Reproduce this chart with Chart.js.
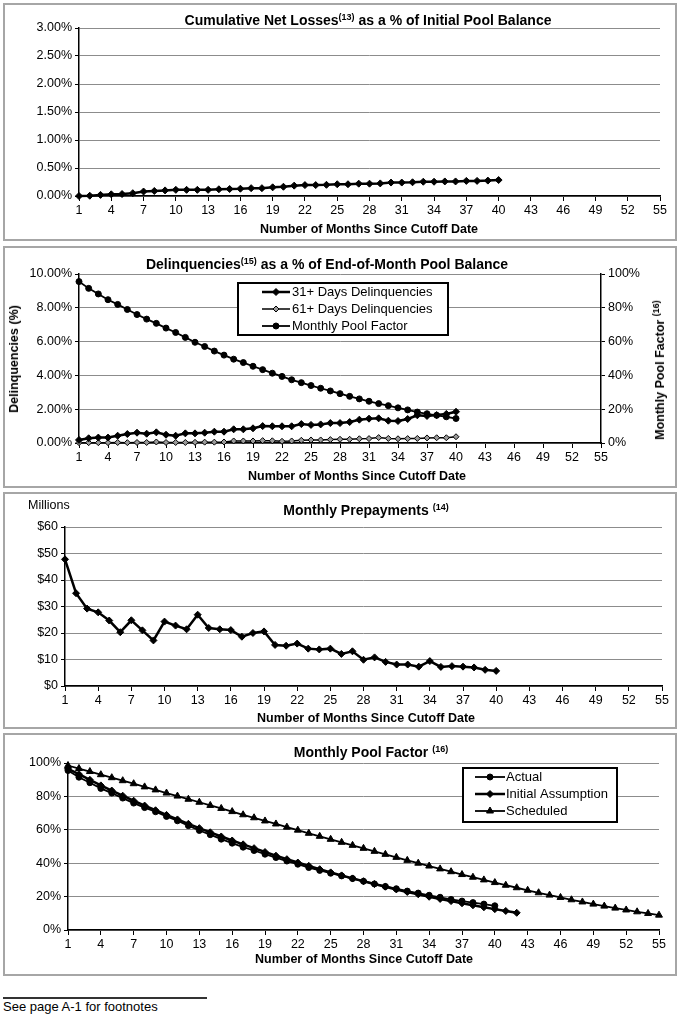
<!DOCTYPE html>
<html><head><meta charset="utf-8">
<script src="https://cdn.jsdelivr.net/npm/chart.js@4.4.1/dist/chart.umd.min.js"></script>
<style>
html,body{margin:0;padding:0;background:#fff;}
body{width:680px;height:1018px;position:relative;overflow:hidden;font-family:"Liberation Sans",Arial,sans-serif;color:#000;}
.frame{position:absolute;left:3px;width:674px;border:2px solid #a6a6a6;box-sizing:border-box;}
.cv{position:absolute;left:3px;width:674px;}
.t{position:absolute;white-space:nowrap;transform:translate(-50%,-50%);font-weight:bold;font-size:14px;line-height:16px;}
.t sup{font-size:9px;vertical-align:0;position:relative;top:-5px;line-height:0;}
.ax{font-size:12.5px;}
.rot{transform:translate(-50%,-50%) rotate(-90deg);}
.plain{position:absolute;white-space:nowrap;font-size:12.5px;line-height:14px;transform:translateY(-50%);}
.rule{position:absolute;left:3px;top:997px;width:204px;height:2px;background:#333;}
</style>
</head><body>
<div class="frame" style="top:3px;height:238px"></div>
<div class="frame" style="top:246px;height:242px"></div>
<div class="frame" style="top:492px;height:237px"></div>
<div class="frame" style="top:733px;height:243px"></div>

<div class="cv" style="top:3px;height:238px"><canvas id="c1"></canvas></div>
<div class="cv" style="top:246px;height:242px"><canvas id="c2"></canvas></div>
<div class="cv" style="top:492px;height:237px"><canvas id="c3"></canvas></div>
<div class="cv" style="top:733px;height:243px"><canvas id="c4"></canvas></div>

<div class="t" style="left:368px;top:20px">Cumulative Net Losses<sup>(13)</sup> as a % of Initial Pool Balance</div>
<div class="t ax" style="left:369px;top:229px">Number of Months Since Cutoff Date</div>

<div class="t" style="left:327px;top:264px">Delinquencies<sup>(15)</sup> as a % of End-of-Month Pool Balance</div>
<div class="t ax" style="left:357px;top:476px">Number of Months Since Cutoff Date</div>
<div class="t ax rot" style="left:14px;top:359px">Delinquencies (%)</div>
<div class="t ax rot" style="left:660px;top:370px">Monthly Pool Factor <sup>(16)</sup></div>

<div class="t" style="left:366px;top:510px">Monthly Prepayments <sup>(14)</sup></div>
<div class="plain" style="left:28px;top:505px">Millions</div>
<div class="t ax" style="left:366px;top:718px">Number of Months Since Cutoff Date</div>

<div class="t" style="left:371px;top:752px">Monthly Pool Factor <sup>(16)</sup></div>
<div class="t ax" style="left:364px;top:959px">Number of Months Since Cutoff Date</div>

<div class="rule"></div>
<div class="plain" style="left:3px;top:1007px;font-size:13px">See page A-1 for footnotes</div>

<script>
// ---------- DATA ----------
const months = [1,2,3,4,5,6,7,8,9,10,11,12,13,14,15,16,17,18,19,20,21,22,23,24,25,26,27,28,29,30,31,32,33,34,35,36,37,38,39,40,41,42,43,44,45,46,47,48,49,50,51,52,53,54,55];
const xTickValues = [1,4,7,10,13,16,19,22,25,28,31,34,37,40,43,46,49,52,55];

// Cumulative net losses (% of initial pool balance), months 1-40
const cumNetLoss = [0.00,0.005,0.02,0.03,0.035,0.05,0.08,0.09,0.10,0.11,0.11,0.11,0.11,0.12,0.125,0.13,0.14,0.14,0.155,0.165,
                    0.185,0.195,0.195,0.20,0.21,0.21,0.22,0.22,0.225,0.24,0.24,0.245,0.255,0.255,0.26,0.26,0.27,0.27,0.275,0.285];

// Delinquencies (% of end-of-month pool balance), months 1-40
const delinq31 = [0.18,0.28,0.32,0.32,0.43,0.53,0.61,0.55,0.63,0.49,0.43,0.57,0.57,0.61,0.67,0.67,0.81,0.81,0.87,1.00,
                  0.99,0.99,0.99,1.12,1.07,1.10,1.18,1.18,1.24,1.38,1.44,1.46,1.32,1.30,1.42,1.64,1.60,1.65,1.72,1.85];
const delinq61 = [0.02,0.02,0.02,0.02,0.03,0.02,0.03,0.03,0.06,0.03,0.03,0.03,0.04,0.05,0.05,0.06,0.12,0.12,0.12,0.14,
                  0.13,0.10,0.12,0.16,0.18,0.18,0.20,0.22,0.22,0.25,0.26,0.32,0.27,0.25,0.26,0.27,0.30,0.31,0.31,0.37];

// Monthly pool factor (%), actual months 1-40
const poolFactorActual = [95.5,91.5,88.2,84.8,82.0,79.0,76.0,73.3,70.8,68.0,65.4,62.5,59.6,57.1,54.4,52.0,49.6,47.6,45.4,43.4,
                          41.3,39.4,37.4,35.7,34.0,32.4,30.8,29.2,27.6,26.1,24.7,23.3,22.1,20.8,19.6,18.3,17.3,16.4,15.5,14.5];
// Initial assumption, months 1-42
const poolFactorAssumption = [96.5,93.3,89.9,86.6,83.5,80.4,77.4,74.5,71.7,68.9,66.2,63.6,61.0,58.5,56.0,53.6,51.3,49.0,46.7,44.5,
                              42.4,40.4,38.4,36.4,34.5,32.7,30.9,29.2,27.5,25.9,24.3,22.8,21.4,19.9,18.6,17.3,16.0,14.8,13.6,12.5,11.4,10.3];
// Scheduled, months 1-55
const poolFactorScheduled = [98.5,96.7,94.9,93.0,91.2,89.4,87.6,85.7,83.9,82.0,80.2,78.3,76.5,74.6,72.8,70.9,69.0,67.2,65.3,63.5,
                             61.6,59.8,57.9,56.1,54.3,52.5,50.7,48.9,47.1,45.3,43.5,41.7,40.0,38.3,36.6,34.9,33.2,31.6,30.0,28.4,
                             26.8,25.3,23.8,22.3,20.9,19.5,18.1,16.8,15.5,14.3,13.1,12.0,10.9,9.9,8.9];

// Monthly prepayments ($ millions), months 1-40
const prepayments = [47.8,35.0,29.2,27.8,24.7,20.3,24.8,21.0,17.2,24.3,22.8,21.4,26.9,21.9,21.4,21.1,18.6,20.0,20.6,15.5,
                     15.2,16.0,14.1,13.8,14.1,12.1,13.1,9.9,10.8,9.1,8.1,8.1,7.3,9.4,7.2,7.5,7.3,7.0,6.1,5.7];

// ---------- HELPERS ----------
const FONT = '"Liberation Sans", Arial, sans-serif';
Chart.defaults.font.family = FONT;
Chart.defaults.color = '#000';
Chart.defaults.animation = false;

const pts = arr => arr.map((v, i) => ({x: months[i], y: v}));

function xScale(h) {
  return {
    type: 'linear', min: 1, max: 55,
    afterBuildTicks: s => { s.ticks = xTickValues.map(v => ({value: v})); },
    afterFit: s => { s.height = h; },
    grid: {drawOnChartArea: false, drawTicks: true, tickLength: 5, color: '#000', lineWidth: 1},
    border: {color: '#000', width: 1.5},
    ticks: {font: {size: 12.5}, color: '#000', padding: 2, maxRotation: 0, autoSkip: false, callback: v => String(v)}
  };
}
function yScale(w, min, max, step, fmt, pos, onArea) {
  return {
    type: 'linear', position: pos || 'left', min: min, max: max,
    afterFit: s => { s.width = w; },
    ticks: {stepSize: step, callback: fmt, font: {size: 12.5}, color: '#000', padding: 3},
    grid: {color: '#8c8c8c', lineWidth: 1, tickLength: 4, tickColor: '#000', drawOnChartArea: onArea !== false},
    border: {color: '#000', width: 1.5}
  };
}
function line(label, data, o) {
  return Object.assign({
    label: label, data: pts(data), borderColor: '#000', backgroundColor: '#000',
    pointBackgroundColor: '#000', pointBorderColor: '#000', pointBorderWidth: 1,
    borderWidth: 2.5, pointStyle: 'rectRot', pointRadius: 3.5, tension: 0, clip: false
  }, o || {});
}
function drawMarker(ctx, ds, x, y) {
  const o = {pointStyle: ds.pointStyle, radius: ds.pointRadius, borderWidth: ds.pointBorderWidth, rotation: 0};
  ctx.save();
  ctx.fillStyle = ds.pointBackgroundColor; ctx.strokeStyle = ds.pointBorderColor; ctx.lineWidth = ds.pointBorderWidth;
  if (Chart.helpers && Chart.helpers.drawPoint) {
    Chart.helpers.drawPoint(ctx, o, x, y);
  } else {
    ctx.beginPath(); ctx.arc(x, y, ds.pointRadius, 0, Math.PI * 2); ctx.fill(); ctx.stroke();
  }
  ctx.restore();
}
const boxLegend = {
  id: 'boxLegend',
  afterDraw(chart, args, opts) {
    if (!opts || !opts.rows) return;
    const ctx = chart.ctx;
    ctx.save();
    ctx.fillStyle = '#fff';
    ctx.fillRect(opts.x, opts.y, opts.w, opts.h);
    ctx.lineWidth = 2; ctx.strokeStyle = '#000';
    ctx.strokeRect(opts.x, opts.y, opts.w, opts.h);
    chart.data.datasets.forEach((ds, i) => {
      const cy = opts.y + opts.rows[i];
      ctx.beginPath(); ctx.moveTo(opts.lx0, cy); ctx.lineTo(opts.lx1, cy);
      ctx.lineWidth = ds.borderWidth; ctx.strokeStyle = ds.borderColor; ctx.stroke();
      drawMarker(ctx, ds, (opts.lx0 + opts.lx1) / 2, cy);
      ctx.fillStyle = '#000'; ctx.font = '13px ' + FONT; ctx.textBaseline = 'middle'; ctx.textAlign = 'left';
      ctx.fillText(ds.label, opts.tx, cy + 0.5);
    });
    ctx.restore();
  }
};
const base = {responsive: true, maintainAspectRatio: false, animation: false,
  plugins: {legend: {display: false}, tooltip: {enabled: false}}};

// ---------- CHART 1 ----------
new Chart(document.getElementById('c1'), {
  type: 'line',
  data: {datasets: [line('Cumulative Net Losses', cumNetLoss)]},
  options: Object.assign({}, base, {
    layout: {padding: {left: 0, right: 17, top: 25, bottom: 0}},
    scales: {
      x: xScale(45),
      y: yScale(76, 0, 3, 0.5, v => v.toFixed(2) + '%')
    }
  })
});

// ---------- CHART 2 ----------
new Chart(document.getElementById('c2'), {
  type: 'line',
  data: {datasets: [
    line('31+ Days Delinquencies', delinq31, {yAxisID: 'y'}),
    line('61+ Days Delinquencies', delinq61, {yAxisID: 'y', borderWidth: 1.5, pointRadius: 3, pointBackgroundColor: '#9a9a9a', pointBorderWidth: 1}),
    line('Monthly Pool Factor', poolFactorActual, {yAxisID: 'y1', borderWidth: 1.8, pointStyle: 'circle', pointRadius: 3})
  ]},
  plugins: [boxLegend],
  options: Object.assign({}, base, {
    layout: {padding: {left: 0, right: 0, top: 28, bottom: 0}},
    plugins: Object.assign({}, base.plugins, {boxLegend: {x: 235, y: 37, w: 210, h: 52, rows: [9, 26, 43], lx0: 259, lx1: 287, tx: 289}}),
    scales: {
      x: xScale(45),
      y: yScale(76, 0, 10, 2, v => v.toFixed(2) + '%'),
      y1: yScale(76, 0, 100, 20, v => v + '%', 'right', false)
    }
  })
});

// ---------- CHART 3 ----------
new Chart(document.getElementById('c3'), {
  type: 'line',
  data: {datasets: [line('Monthly Prepayments', prepayments)]},
  options: Object.assign({}, base, {
    layout: {padding: {left: 0, right: 15, top: 35, bottom: 0}},
    scales: {
      x: xScale(43),
      y: yScale(62, 0, 60, 10, v => '$' + v)
    }
  })
});

// ---------- CHART 4 ----------
new Chart(document.getElementById('c4'), {
  type: 'line',
  data: {datasets: [
    line('Actual', poolFactorActual, {borderWidth: 1.8, pointStyle: 'circle', pointRadius: 3}),
    line('Initial Assumption', poolFactorAssumption, {borderWidth: 2.5, pointRadius: 3.5}),
    line('Scheduled', poolFactorScheduled, {borderWidth: 1.8, pointStyle: 'triangle', pointRadius: 4})
  ]},
  plugins: [boxLegend],
  options: Object.assign({}, base, {
    layout: {padding: {left: 0, right: 18, top: 30, bottom: 0}},
    plugins: Object.assign({}, base.plugins, {boxLegend: {x: 460, y: 35, w: 154, h: 54, rows: [9, 26, 43], lx0: 472, lx1: 502, tx: 503}}),
    scales: {
      x: xScale(46),
      y: yScale(65, 0, 100, 20, v => v + '%')
    }
  })
});
</script>
</body></html>
